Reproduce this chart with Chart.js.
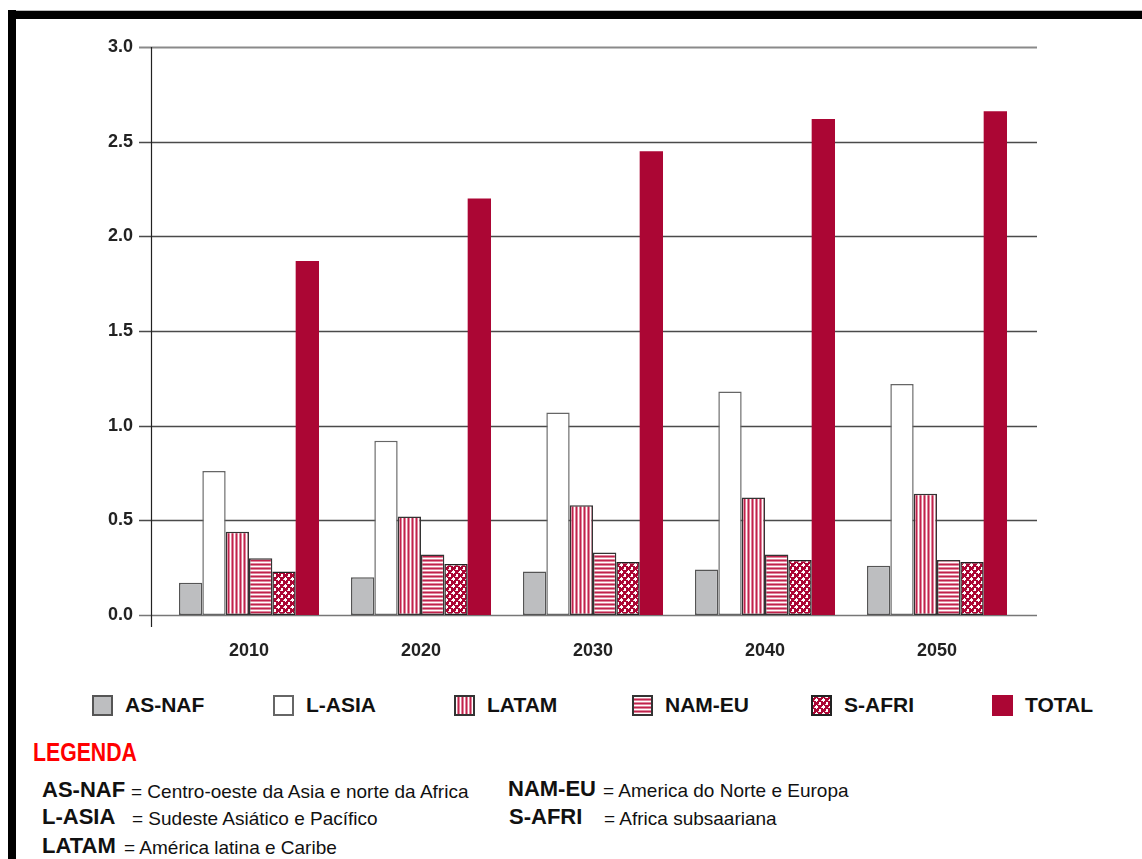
<!DOCTYPE html>
<html>
<head>
<meta charset="utf-8">
<script src="https://cdn.jsdelivr.net/npm/chart.js@4"></script>
<style>
  html, body { margin: 0; padding: 0; background: #fff; }
  body { width: 1142px; height: 859px; position: relative; overflow: hidden; font-family: "Liberation Sans", Arial, sans-serif; }
  .bar-top { position: absolute; left: 8px; right: 0; top: 10px; height: 8px; background: #000; border-top: 1px solid #bbb; }
  .bar-left { position: absolute; left: 8px; width: 8px; top: 10px; bottom: 0; background: #000; }
  #chartBox { position: absolute; left: 0; top: 0; width: 1142px; height: 680px; }
  .leg { position: absolute; top: 694px; height: 22px; display: flex; align-items: center; }
  .leg canvas { width: 21px; height: 21px; margin-right: 12px; }
  .leg span { font-weight: bold; font-size: 21px; color: #111; }
  .legenda { position: absolute; left: 33px; top: 738px; color: #ff0000; font-weight: bold; font-size: 25px; transform: scaleX(0.85); transform-origin: left top; }
  .def { position: absolute; color: #111; white-space: nowrap; }
  .def b { font-size: 22px; }
</style>
</head>
<body>
<div class="bar-top"></div>
<div class="bar-left"></div>
<div id="chartBox"><canvas id="chart" width="1142" height="680"></canvas></div>
<div id="legend"></div>
<div class="legenda">LEGENDA</div>
<div id="defs"></div>

<script>
// Data
const years = ['2010', '2020', '2030', '2040', '2050'];
const seriesNames = ['AS-NAF', 'L-ASIA', 'LATAM', 'NAM-EU', 'S-AFRI', 'TOTAL'];
const asNaf = [0.17, 0.20, 0.23, 0.24, 0.26];
const lAsia = [0.76, 0.92, 1.07, 1.18, 1.22];
const latam = [0.44, 0.52, 0.58, 0.62, 0.64];
const namEu = [0.30, 0.32, 0.33, 0.32, 0.29];
const sAfri = [0.23, 0.27, 0.28, 0.29, 0.28];
const total = [1.87, 2.20, 2.45, 2.62, 2.66];
const yTicks = [0, 0.5, 1, 1.5, 2, 2.5, 3];

const legendX = [92, 273, 454, 632, 811, 992];
const definitions = [
  { abbr: 'AS-NAF', text: '= Centro-oeste da Asia e norte da Africa', x: 42, tx: 131, y: 777 },
  { abbr: 'L-ASIA', text: '= Sudeste Asiático e Pacífico', x: 42, tx: 132, y: 804 },
  { abbr: 'LATAM', text: '= América latina e Caribe', x: 42, tx: 124, y: 833 },
  { abbr: 'NAM-EU', text: '= America do Norte e Europa', x: 508, tx: 603, y: 776 },
  { abbr: 'S-AFRI', text: '= Africa subsaariana', x: 509, tx: 604, y: 804 }
];

const CRIMSON = '#ab0634';

// Pattern helpers
function makeTile(w, h, draw) {
  const c = document.createElement('canvas');
  c.width = w; c.height = h;
  draw(c.getContext('2d'));
  return c;
}

const vStripeTile = makeTile(4, 4, function(g) {
  g.fillStyle = '#e0869d'; g.fillRect(0, 0, 4, 4);
  g.fillStyle = '#c0234c'; g.fillRect(0, 0, 1, 4);
  g.fillStyle = '#ffffff'; g.fillRect(2, 0, 1, 4);
});
const hStripeTile = makeTile(4, 4, function(g) {
  g.fillStyle = '#e0869d'; g.fillRect(0, 0, 4, 4);
  g.fillStyle = '#c0234c'; g.fillRect(0, 0, 4, 1);
  g.fillStyle = '#ffffff'; g.fillRect(0, 2, 4, 1);
});
const dotTile = makeTile(7, 7, function(g) {
  g.fillStyle = CRIMSON; g.fillRect(0, 0, 7, 7);
  g.fillStyle = '#ffffff';
  g.fillRect(1, 1, 2, 2);
  g.fillRect(4, 4, 3, 2);
  g.fillRect(5, 3, 1, 4);
  g.fillRect(1, 0, 2, 1);
  g.fillStyle = '#f3c6d1';
  g.fillRect(0, 2, 1, 1);
  g.fillRect(3, 5, 1, 1);
});

function pattern(tile) {
  const ctx = document.createElement('canvas').getContext('2d');
  return ctx.createPattern(tile, 'repeat');
}

const fills = ['#bdbec0', '#ffffff', pattern(vStripeTile), pattern(hStripeTile), pattern(dotTile), CRIMSON];
const borders = ['#555555', '#666666', '#333333', '#333333', '#222222', CRIMSON];
const borderWidths = [1.5, 1.5, 1.5, 1.5, 1.5, 0];
const values = [asNaf, lAsia, latam, namEu, sAfri, total];

// Gridlines and y-axis line drawn behind the bars
const gridPlugin = {
  id: 'gridBehind',
  beforeDatasetsDraw(chart) {
    const ctx = chart.ctx;
    const y = chart.scales.y;
    const area = chart.chartArea;
    ctx.save();
    yTicks.forEach(function(v) {
      const py = Math.round(y.getPixelForValue(v)) + 0.5;
      ctx.beginPath();
      if (v === 3) { ctx.strokeStyle = '#8a8a8a'; ctx.lineWidth = 2; }
      else if (v === 0) { ctx.strokeStyle = '#777777'; ctx.lineWidth = 1.5; }
      else { ctx.strokeStyle = '#4a4a4a'; ctx.lineWidth = 1.3; }
      ctx.moveTo(area.left - 24, py);
      ctx.lineTo(area.right + 14, py);
      ctx.stroke();
    });
    ctx.beginPath();
    ctx.strokeStyle = '#222';
    ctx.lineWidth = 1.2;
    ctx.moveTo(area.left - 11.5, y.getPixelForValue(3));
    ctx.lineTo(area.left - 11.5, y.getPixelForValue(0) + 12);
    ctx.stroke();
    ctx.restore();
  }
};

new Chart(document.getElementById('chart'), {
  type: 'bar',
  data: {
    labels: years,
    datasets: seriesNames.map(function(name, i) {
      return {
        label: name,
        data: values[i],
        backgroundColor: fills[i],
        borderColor: borders[i],
        borderWidth: borderWidths[i],
        borderSkipped: false,
        barPercentage: 1,
        categoryPercentage: 0.814
      };
    })
  },
  options: {
    responsive: false,
    animation: false,
    layout: { padding: { top: 47, right: 119, bottom: 0, left: 0 } },
    plugins: { legend: { display: false }, tooltip: { enabled: false } },
    scales: {
      x: {
        grid: { display: false, drawTicks: false },
        border: { display: false },
        ticks: { color: '#222', padding: 25, font: { family: 'Liberation Sans', size: 18, weight: 'bold' } },
        afterFit: function(scale) { scale.height = 65; }
      },
      y: {
        min: 0,
        max: 3,
        grid: { display: false, drawTicks: false },
        border: { display: false },
        afterBuildTicks: function(scale) { scale.ticks = yTicks.map(function(v) { return { value: v }; }); },
        ticks: {
          color: '#222',
          padding: 30,
          font: { family: 'Liberation Sans', size: 18, weight: 'bold' },
          callback: function(v) { return Number(v).toFixed(1); }
        },
        afterFit: function(scale) { scale.width = 163; }
      }
    }
  },
  plugins: [gridPlugin]
});

// HTML legend
const legend = document.getElementById('legend');
seriesNames.forEach(function(name, i) {
  const item = document.createElement('div');
  item.className = 'leg';
  item.style.left = legendX[i] + 'px';
  const sw = document.createElement('canvas');
  sw.width = 21; sw.height = 21;
  const g = sw.getContext('2d');
  g.fillStyle = fills[i];
  g.fillRect(0, 0, 21, 21);
  if (borderWidths[i] > 0) {
    g.strokeStyle = borders[i];
    g.lineWidth = 2;
    g.strokeRect(1, 1, 19, 19);
  }
  const label = document.createElement('span');
  label.textContent = name;
  item.appendChild(sw);
  item.appendChild(label);
  legend.appendChild(item);
});

// Definitions block
const defs = document.getElementById('defs');
definitions.forEach(function(d) {
  const a = document.createElement('div');
  a.className = 'def';
  a.style.left = d.x + 'px';
  a.style.top = d.y + 'px';
  a.innerHTML = '<b></b>';
  a.querySelector('b').textContent = d.abbr;
  defs.appendChild(a);
  const t = document.createElement('div');
  t.className = 'def';
  t.style.left = d.tx + 'px';
  t.style.top = (d.y + 4) + 'px';
  t.style.fontSize = '19px';
  t.textContent = d.text;
  defs.appendChild(t);
});
</script>
</body>
</html>
